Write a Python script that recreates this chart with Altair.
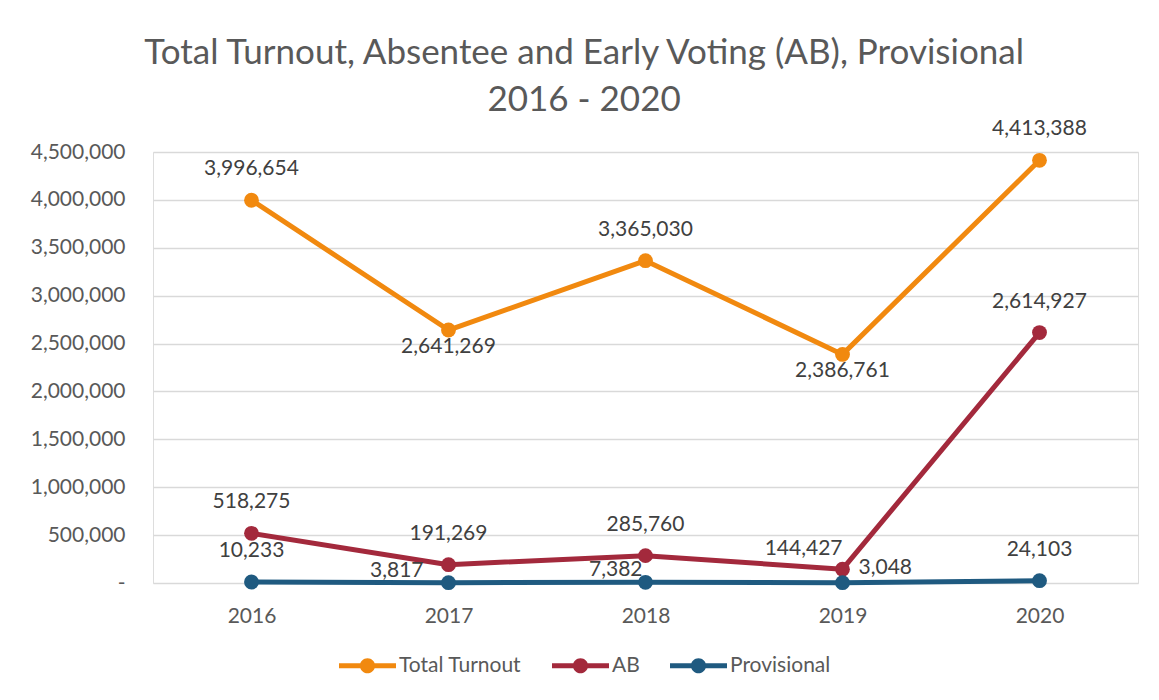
import altair as alt
import pandas as pd

years = ["2016", "2017", "2018", "2019", "2020"]
total_turnout = [3996654, 2641269, 3365030, 2386761, 4413388]
ab = [518275, 191269, 285760, 144427, 2614927]
provisional = [10233, 3817, 7382, 3048, 24103]
series_names = ["Total Turnout", "AB", "Provisional"]
series_colors = ["#F1890F", "#A3293C", "#1F5A80"]
y_ticks = [0, 500000, 1000000, 1500000, 2000000, 2500000, 3000000, 3500000, 4000000, 4500000]

rows = []
for name, vals in zip(series_names, [total_turnout, ab, provisional]):
    for yr, v in zip(years, vals):
        rows.append({"year": yr, "series": name, "value": v})
df = pd.DataFrame(rows)

FONT = "Lato"

x_enc = alt.X("year:N", sort=years, title=None,
              scale=alt.Scale(paddingInner=0, paddingOuter=0.5),
              axis=alt.Axis(labelAngle=0, ticks=False, domain=False, grid=False,
                            labelPadding=22, labelFontSize=21, labelColor="#595959",
                            labelFont=FONT))
y_enc = alt.Y("value:Q", title=None,
              scale=alt.Scale(domain=[0, 4500000], nice=False),
              axis=alt.Axis(values=y_ticks, ticks=False, domain=False, grid=True,
                            gridColor="#D9D9D9", gridWidth=1.3,
                            labelPadding=28, labelFontSize=21, labelColor="#595959",
                            labelFont=FONT,
                            labelExpr="datum.value == 0 ? '-\u00a0\u00a0\u00a0\u00a0' : format(datum.value, ',')"))

color_scale = alt.Scale(domain=series_names, range=series_colors)

legend_path = ("M-1,-0.09H1V0.09H-1Z "
               "M0.265,0A0.265,0.265 0 1,1 -0.265,0A0.265,0.265 0 1,1 0.265,0Z")

legend = alt.Legend(title=None, orient="none", direction="horizontal",
                    legendX=186, legendY=485,
                    symbolType=legend_path, symbolSize=3249, symbolStrokeWidth=0,
                    symbolOpacity=1,
                    labelFontSize=21, labelColor="#595959", labelFont=FONT,
                    labelOffset=3, columnPadding=30, padding=0)

color_enc = alt.Color("series:N", scale=color_scale, legend=legend, sort=series_names)

base = alt.Chart(df)

lines = base.mark_line(strokeWidth=5, strokeCap="round", strokeJoin="round").encode(
    x=x_enc, y=y_enc, color=color_enc,
)
points = base.mark_point(filled=True, size=220, opacity=1).encode(
    x=x_enc, y=y_enc, color=color_enc,
)


def labels(filter_expr, dx=0, dy=-31, align="center"):
    return base.transform_filter(filter_expr).mark_text(
        fontSize=21, font=FONT, color="#404040", align=align, dx=dx, dy=dy,
        baseline="middle",
    ).encode(x=x_enc, y=y_enc, text=alt.Text("value:Q", format=","))


above = labels(
    "(datum.series == 'Total Turnout' && (datum.year == '2016' || datum.year == '2018' || datum.year == '2020'))"
    " || (datum.series == 'AB' && datum.year != '2019')"
    " || (datum.series == 'Provisional' && (datum.year == '2016' || datum.year == '2020'))",
    dy=-31)
below = labels("datum.series == 'Total Turnout' && (datum.year == '2017' || datum.year == '2019')", dy=17)
ab_2019 = labels("datum.series == 'AB' && datum.year == '2019'", dx=0, dy=-20, align="right")
prov_2017 = labels("datum.series == 'Provisional' && datum.year == '2017'", dx=-25, dy=-12, align="right")
prov_2018 = labels("datum.series == 'Provisional' && datum.year == '2018'", dx=-3, dy=-12, align="right")
prov_2019 = labels("datum.series == 'Provisional' && datum.year == '2019'", dx=16, dy=-15, align="left")

chart = alt.layer(lines, points, above, below, ab_2019, prov_2017, prov_2018, prov_2019).properties(
    width=985,
    height=431,
    title=alt.TitleParams(
        text=["Total Turnout, Absentee and Early Voting (AB), Provisional", "2016 - 2020"],
        fontSize=35, font=FONT, fontWeight="normal", color="#595959",
        lineHeight=47, anchor="middle", frame="bounds", offset=0,
    ),
    padding={"left": 22, "top": 28, "right": 12, "bottom": 10},
).configure_view(stroke=None).configure(background="white")

chart.save("out.html", embed_options={"renderer": "svg", "actions": False})
